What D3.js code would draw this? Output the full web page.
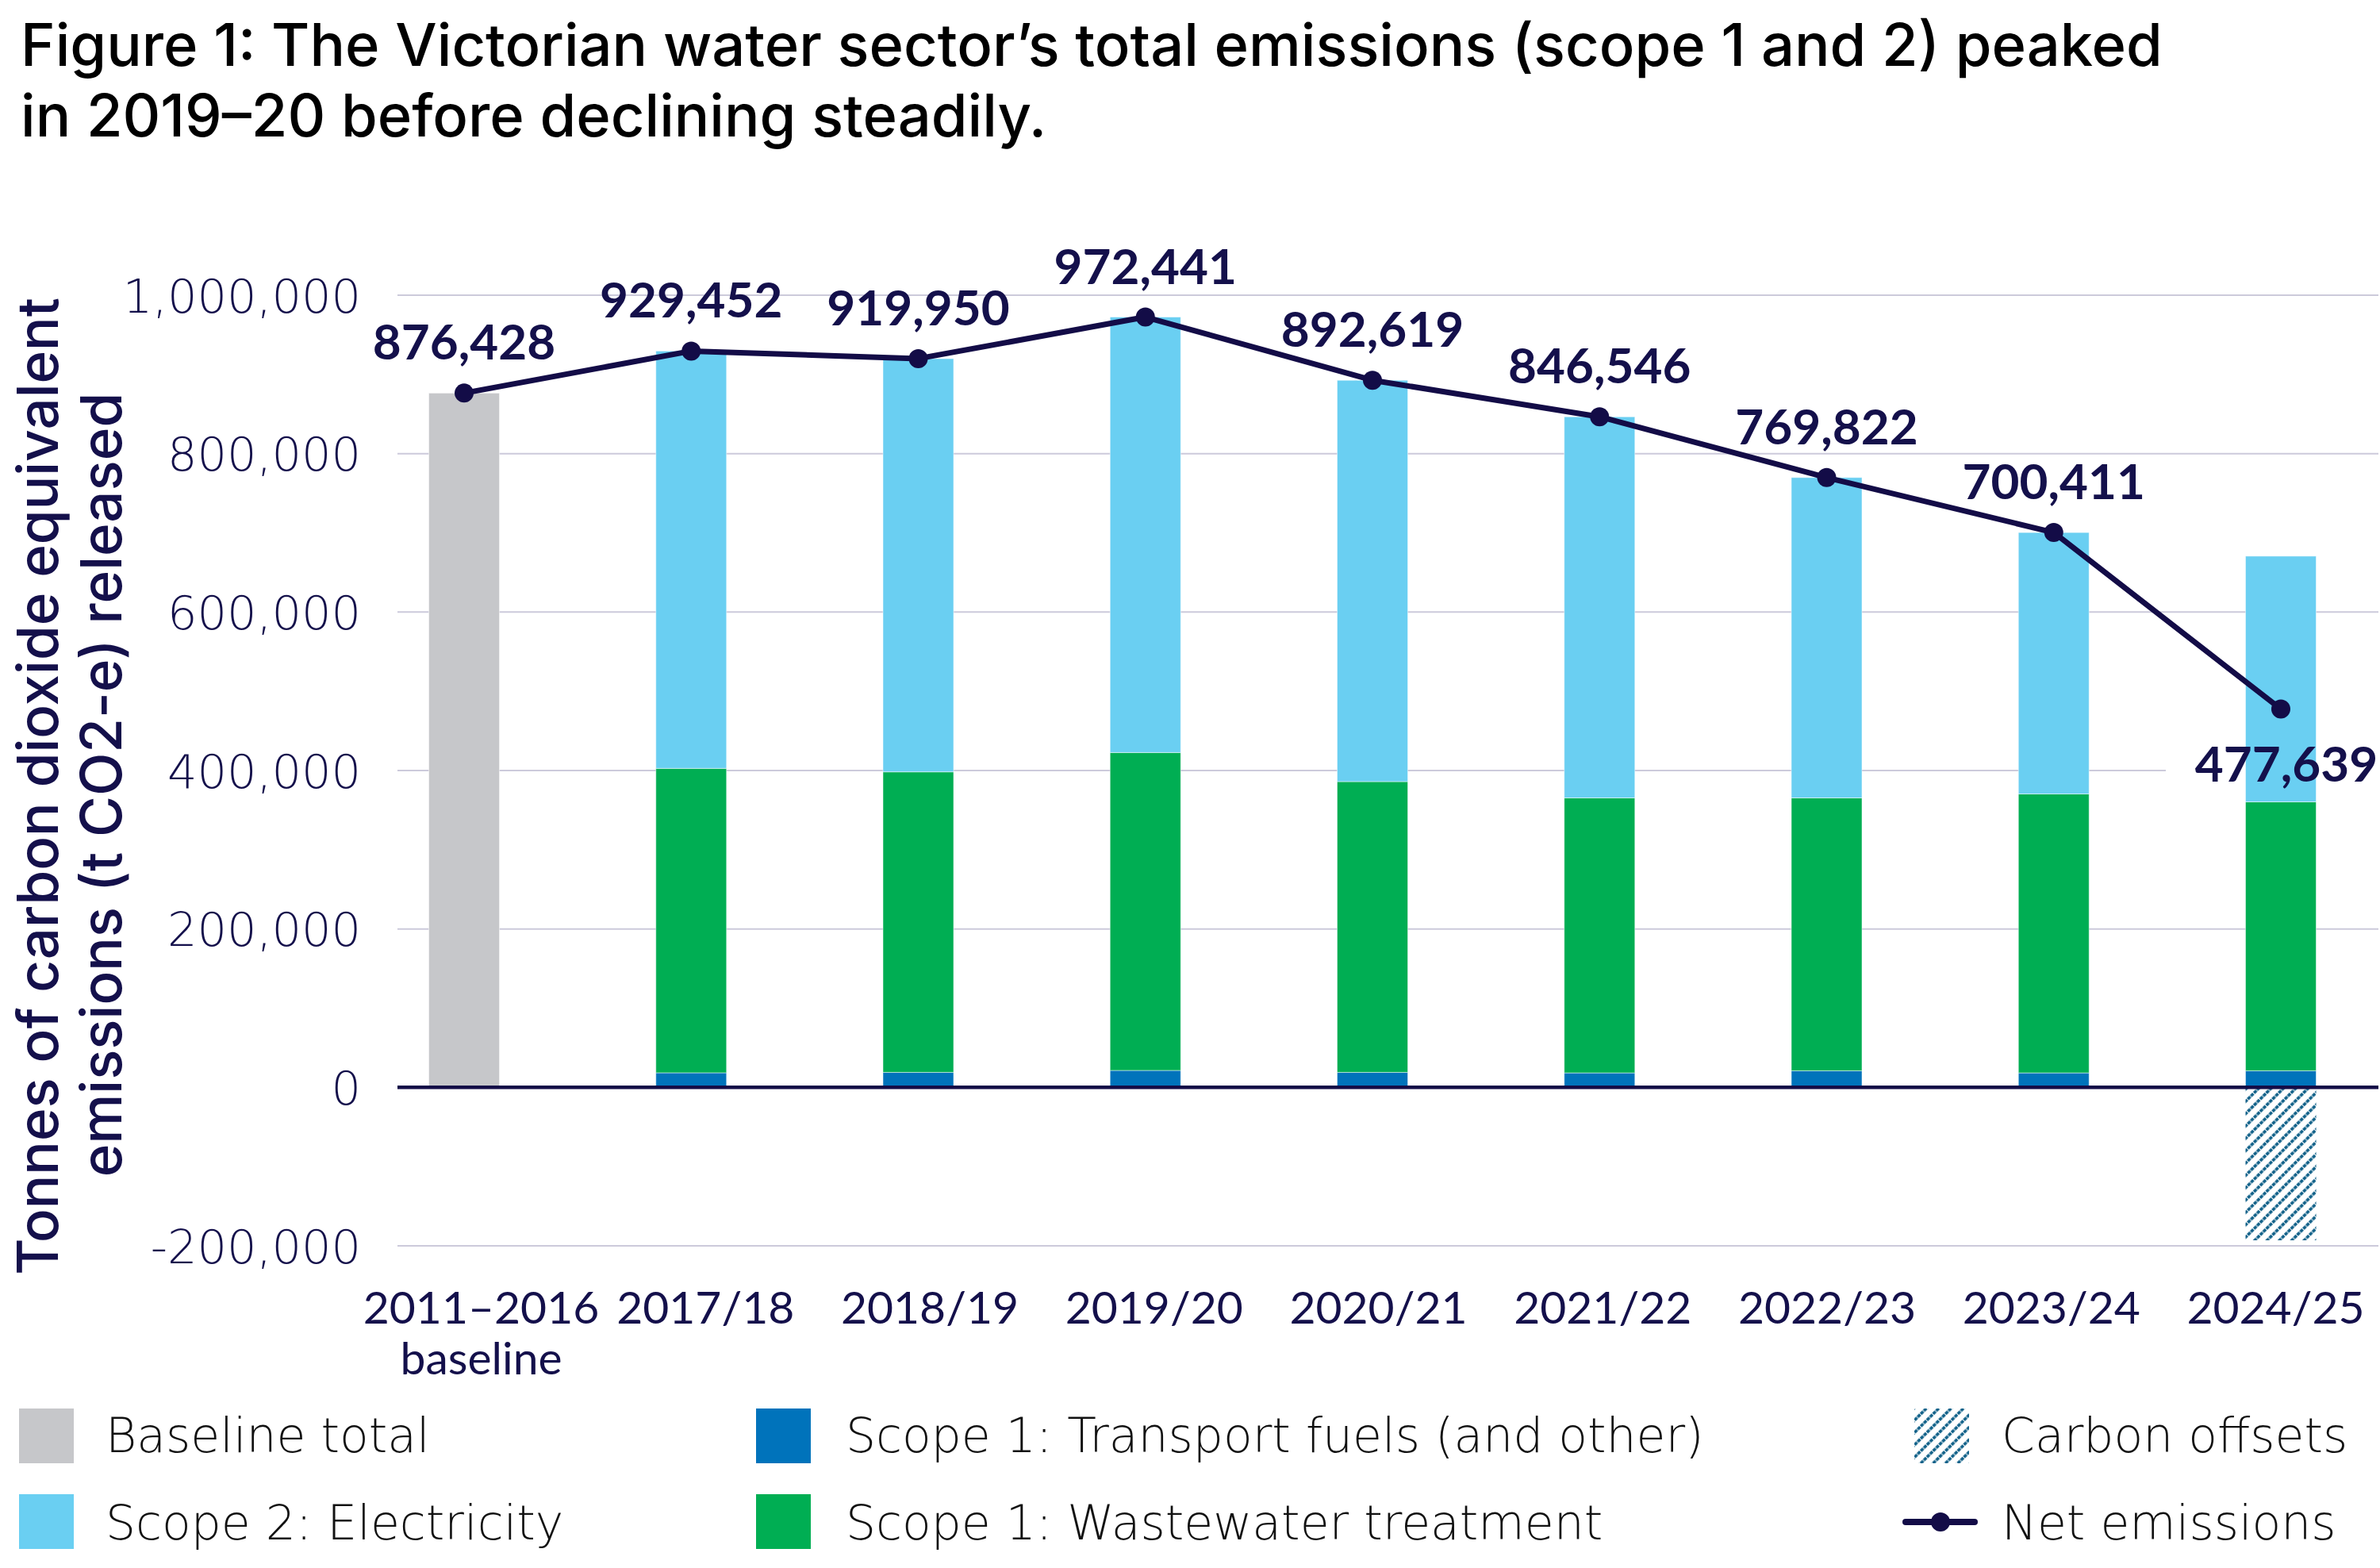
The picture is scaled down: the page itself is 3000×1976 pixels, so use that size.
<!DOCTYPE html>
<html>
<head>
<meta charset="utf-8">
<script src="https://cdn.jsdelivr.net/npm/d3@7"></script>
<style>
  html, body { margin: 0; padding: 0; background: #fff; }
  svg { display: block; }
</style>
</head>
<body>
<svg id="chart" width="3000" height="1976"></svg>
<script>
// ---------------- DATA ----------------
const categories = ["2011–2016|baseline", "2017/18", "2018/19", "2019/20", "2020/21", "2021/22", "2022/23", "2023/24", "2024/25"];
const baselineTotal = [876428, 0, 0, 0, 0, 0, 0, 0, 0];
const transportFuels = [0, 18400, 19000, 21400, 19000, 18300, 21000, 18300, 21000];
const wastewater = [0, 384300, 379300, 401300, 367000, 347100, 344400, 352100, 339400];
const electricity = [0, 526800, 521600, 549700, 506600, 481100, 404400, 330000, 310200];
const carbonOffsets = [0, 0, 0, 0, 0, 0, 0, 0, -193000];
const netEmissions = [876428, 929452, 919950, 972441, 892619, 846546, 769822, 700411, 477639];
const yTicks = [-200000, 0, 200000, 400000, 600000, 800000, 1000000];
const titleLines = ["Figure 1: The Victorian water sector’s total emissions (scope 1 and 2) peaked", "in 2019–20 before declining steadily."];
const yTitleLines = ["Tonnes of carbon dioxide equivalent", "emissions (t CO2-e) released"];
const legendItems = [
  {label: "Baseline total", key: "baseline"},
  {label: "Scope 2: Electricity", key: "electricity"},
  {label: "Scope 1: Transport fuels (and other)", key: "transport"},
  {label: "Scope 1: Wastewater treatment", key: "wastewater"},
  {label: "Carbon offsets", key: "offsets"},
  {label: "Net emissions", key: "net"}
];

// ---------------- STYLE ----------------
const colors = {
  baseline: "#c6c7ca",
  electricity: "#6acff2",
  transport: "#0073bb",
  wastewater: "#00ae53",
  offsets: "#0b5d86",
  net: "#130c47",
  grid: "#cccadb",
  text: "#14104b"
};

const svg = d3.select("#chart");
const defs = svg.append("defs");
const pat = defs.append("pattern")
  .attr("id", "hatch").attr("patternUnits", "userSpaceOnUse")
  .attr("width", 11).attr("height", 11)
  .attr("patternTransform", "rotate(45)");
pat.append("line").attr("x1", 2).attr("x2", 2).attr("y1", 0).attr("y2", 11)
  .attr("stroke", colors.offsets).attr("stroke-width", 3.6)
  .attr("stroke-dasharray", "4.5 1");

// ---------------- SCALES ----------------
const plotLeft = 501, plotRight = 2998;
const y = d3.scaleLinear().domain([-200000, 1000000]).range([1570, 372]);
const step = 286.25;
const x = d3.scaleBand().domain(categories)
  .range([585 - step / 2, 2875 + step / 2])
  .paddingInner(0.689).paddingOuter(0.3445);
// category label positions (labels are spread slightly differently from the bars)
const xLabel = d3.scalePoint().domain(categories).range([606, 2868]);

// ---------------- TITLE ----------------
const title = svg.append("g").attr("font-family", "Inter, 'Noto Sans', sans-serif")
  .attr("font-weight", 500).attr("fill", "#000");
const t1 = title.append("text").attr("x", 26).attr("y", 83).attr("font-size", 70).text(titleLines[0]);
const t2 = title.append("text").attr("x", 26).attr("y", 172).attr("font-size", 70).text(titleLines[1]);
(function fit() {
  const w = t1.node().getComputedTextLength();
  const fs = 70 * 2700 / w;
  t1.attr("font-size", fs); t2.attr("font-size", fs);
})();

// ---------------- GRID ----------------
svg.append("g").selectAll("line").data(yTicks.filter(d => d !== 0)).join("line")
  .attr("x1", plotLeft).attr("x2", plotRight)
  .attr("y1", d => y(d)).attr("y2", d => y(d))
  .attr("stroke", colors.grid).attr("stroke-width", 2);

// white backing behind last label (breaks the gridline)
const lastIdx = categories.length - 1;
svg.append("rect")
  .attr("x", x(categories[lastIdx]) + x.bandwidth() / 2 - 145)
  .attr("y", y(netEmissions[lastIdx]) + 42)
  .attr("width", 270).attr("height", 60).attr("fill", "#fff");

// ---------------- Y AXIS ----------------
const yAxis = svg.append("g").attr("transform", `translate(${plotLeft},0)`)
  .call(d3.axisLeft(y).tickValues(yTicks).tickSize(0).tickPadding(46)
    .tickFormat(d => d3.format(",")(d).replace("−", "-")));
yAxis.select(".domain").remove();
yAxis.selectAll("text").attr("font-family", "'DejaVu Sans', sans-serif")
  .attr("font-weight", 200).attr("font-size", 59).attr("fill", colors.text)
  .attr("dy", "0.36em");

// ---------------- BARS ----------------
const stackKeys = ["baseline", "transport", "wastewater", "electricity"];
const rows = categories.map((c, i) => ({
  cat: c, baseline: baselineTotal[i], transport: transportFuels[i],
  wastewater: wastewater[i], electricity: electricity[i]
}));
const series = d3.stack().keys(stackKeys)(rows);
const barG = svg.append("g");
series.forEach(s => {
  barG.append("g").attr("fill", colors[s.key])
    .selectAll("rect").data(s).join("rect")
    .attr("x", d => x(d.data.cat))
    .attr("width", x.bandwidth())
    .attr("y", d => y(d[1]))
    .attr("height", d => Math.max(0, y(d[0]) - y(d[1])))
    .attr("stroke", "rgba(255,255,255,0.5)").attr("stroke-width", 1);
});
// carbon offsets (negative)
barG.append("g").selectAll("rect").data(categories.map((c, i) => ({cat: c, v: carbonOffsets[i]})).filter(d => d.v < 0))
  .join("rect")
  .attr("x", d => x(d.cat)).attr("width", x.bandwidth())
  .attr("y", y(0)).attr("height", d => y(d.v) - y(0))
  .attr("fill", "url(#hatch)");

// zero line
svg.append("line").attr("x1", plotLeft).attr("x2", plotRight)
  .attr("y1", y(0)).attr("y2", y(0))
  .attr("stroke", colors.net).attr("stroke-width", 4.5);

// ---------------- X AXIS ----------------
const xAxis = svg.append("g").attr("transform", `translate(0,${y(-200000)})`)
  .call(d3.axisBottom(xLabel).tickSize(0).tickPadding(0));
xAxis.select(".domain").remove();
xAxis.selectAll("text").each(function (d) {
  const t = d3.select(this);
  const parts = d.split("|");
  t.text(null).attr("y", 0).attr("dy", null)
    .attr("font-family", "Lato, 'Noto Sans', sans-serif").attr("font-weight", 400)
    .attr("font-size", 57).attr("fill", colors.text);
  parts.forEach((p, k) => {
    t.append("tspan").attr("x", 0).attr("y", 98 + k * 64).text(p);
  });
});

// ---------------- NET EMISSIONS LINE ----------------
const cx = i => x(categories[i]) + x.bandwidth() / 2;
const line = d3.line().x((d, i) => cx(i)).y(d => y(d));
svg.append("path").datum(netEmissions).attr("d", line)
  .attr("fill", "none").attr("stroke", colors.net).attr("stroke-width", 7)
  .attr("stroke-linejoin", "round");
svg.append("g").selectAll("circle").data(netEmissions).join("circle")
  .attr("cx", (d, i) => cx(i)).attr("cy", d => y(d)).attr("r", 12)
  .attr("fill", colors.net);
svg.append("g").selectAll("text").data(netEmissions).join("text")
  .attr("x", (d, i) => i === lastIdx ? cx(i) + 7 : cx(i))
  .attr("y", (d, i) => i === lastIdx ? y(d) + 92 : y(d) - 42)
  .attr("text-anchor", "middle")
  .attr("font-family", "Lato, 'Noto Sans', sans-serif").attr("font-weight", 700)
  .attr("font-size", 62).attr("fill", colors.text)
  .text(d => d3.format(",")(d));

// ---------------- Y TITLE ----------------
const yt = svg.append("g").attr("font-family", "Inter, 'Noto Sans', sans-serif")
  .attr("font-weight", 500).attr("fill", colors.text).attr("text-anchor", "middle");
const yt1 = yt.append("text").attr("transform", "translate(73,991) rotate(-90)").attr("font-size", 62).text(yTitleLines[0]);
const yt2 = yt.append("text").attr("transform", "translate(153,989) rotate(-90)").attr("font-size", 62).text(yTitleLines[1]);
(function fitY() {
  const w = yt1.node().getComputedTextLength();
  const fs = 62 * 1232 / w;
  yt1.attr("font-size", fs); yt2.attr("font-size", fs);
})();

// ---------------- LEGEND ----------------
const legendPos = {
  baseline: {sx: 24, tx: 133, row: 0},
  electricity: {sx: 24, tx: 133, row: 1},
  transport: {sx: 953, tx: 1066, row: 0},
  wastewater: {sx: 953, tx: 1066, row: 1},
  offsets: {sx: 2413, tx: 2523, row: 0},
  net: {sx: 2402, tx: 2523, row: 1}
};
const rowTop = [1775, 1883], rowBase = [1830, 1940];
const lg = svg.append("g");
legendItems.forEach(it => {
  const p = legendPos[it.key];
  if (it.key === "net") {
    const cy = rowTop[p.row] + 35;
    lg.append("line").attr("x1", p.sx).attr("x2", p.sx + 87).attr("y1", cy).attr("y2", cy)
      .attr("stroke", colors.net).attr("stroke-width", 8).attr("stroke-linecap", "round");
    lg.append("circle").attr("cx", p.sx + 44).attr("cy", cy).attr("r", 12).attr("fill", colors.net);
  } else {
    lg.append("rect").attr("x", p.sx).attr("y", rowTop[p.row]).attr("width", 69).attr("height", 69)
      .attr("fill", it.key === "offsets" ? "url(#hatch)" : colors[it.key]);
  }
  lg.append("text").attr("x", p.tx).attr("y", rowBase[p.row])
    .attr("font-family", "'DejaVu Sans', sans-serif").attr("font-weight", 200)
    .attr("font-size", 60).attr("fill", "#111").text(it.label);
});
</script>
</body>
</html>
